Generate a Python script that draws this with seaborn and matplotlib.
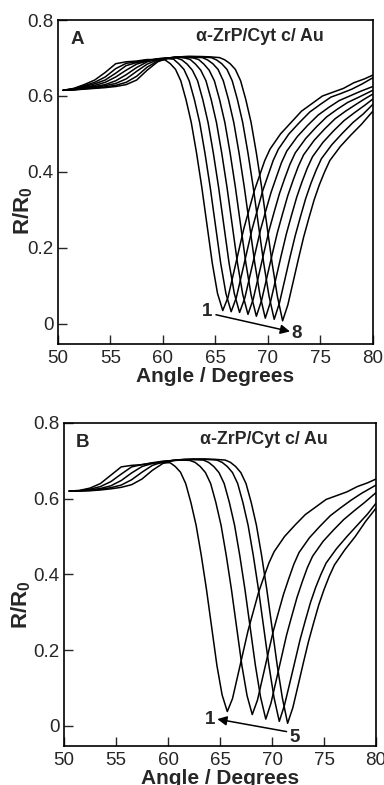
"""
SPR angle scans of alpha-ZrP/Cyt c multilayers on Au, two panels (A: 8 scans, B: 5 scans).
"""
import matplotlib
matplotlib.use("Agg")
import matplotlib.pyplot as plt
import seaborn as sns
import pandas as pd

# ---- panel A: 8 scans ----
A_ANGLE = [
    [50.5, 51.5, 52.5, 53.5, 54.5, 55.5, 56.5, 57.5, 58.5, 59.5,
     60.2, 60.7, 61.2, 61.7, 62.2, 62.7, 63.2, 63.7, 64.2, 64.7, 65.2, 65.7,
     66.2, 66.7, 67.2, 67.7, 68.2, 68.7, 69.2, 69.7, 70.2, 71.2, 72.2, 73.2, 74.2, 75.2, 76.2, 77.2, 78.2, 79.2, 80.0],
    [50.5, 51.5, 52.5, 53.5, 54.5, 55.5, 56.5, 57.5, 58.5, 59.5, 60.5,
     61.0, 61.5, 62.0, 62.5, 63.0, 63.5, 64.0, 64.5, 65.0, 65.5, 66.0, 66.5,
     67.0, 67.5, 68.0, 68.5, 69.0, 69.5, 70.0, 70.5, 71.0, 72.0, 73.0, 74.0, 75.0, 76.0, 77.0, 78.0, 79.0, 80.0],
    [50.5, 51.5, 52.5, 53.5, 54.5, 55.5, 56.5, 57.5, 58.5, 59.5, 60.5, 61.3,
     61.8, 62.3, 62.8, 63.3, 63.8, 64.3, 64.8, 65.3, 65.8, 66.3, 66.8, 67.3,
     67.8, 68.3, 68.8, 69.3, 69.8, 70.3, 70.8, 71.3, 71.8, 72.8, 73.8, 74.8, 75.8, 76.8, 77.8, 78.8, 80.0],
    [50.5, 51.5, 52.5, 53.5, 54.5, 55.5, 56.5, 57.5, 58.5, 59.5, 60.5, 61.5, 62.1,
     62.6, 63.1, 63.6, 64.1, 64.6, 65.1, 65.6, 66.1, 66.6, 67.1, 67.6, 68.1,
     68.6, 69.1, 69.6, 70.1, 70.6, 71.1, 71.6, 72.1, 72.6, 73.6, 74.6, 75.6, 76.6, 77.6, 78.6, 80.0],
    [50.5, 51.5, 52.5, 53.5, 54.5, 55.5, 56.5, 57.5, 58.5, 59.5, 60.5, 61.5, 62.5, 62.9,
     63.4, 63.9, 64.4, 64.9, 65.4, 65.9, 66.4, 66.9, 67.4, 67.9, 68.4, 68.9,
     69.4, 69.9, 70.4, 70.9, 71.4, 71.9, 72.4, 72.9, 73.4, 74.4, 75.4, 76.4, 77.4, 78.4, 79.2, 80.0],
    [50.5, 51.5, 52.5, 53.5, 54.5, 55.5, 56.5, 57.5, 58.5, 59.5, 60.5, 61.5, 62.5, 63.75,
     64.25, 64.75, 65.25, 65.75, 66.25, 66.75, 67.25, 67.75, 68.25, 68.75, 69.25, 69.75,
     70.25, 70.75, 71.25, 71.75, 72.25, 72.75, 73.25, 73.75, 74.25, 75.25, 76.25, 77.25, 78.25, 79.25, 80.0],
    [50.5, 51.5, 52.5, 53.5, 54.5, 55.5, 56.5, 57.5, 58.5, 59.5, 60.5, 61.5, 62.5, 63.5, 64.6,
     65.1, 65.6, 66.1, 66.6, 67.1, 67.6, 68.1, 68.6, 69.1, 69.6, 70.1, 70.6,
     71.1, 71.6, 72.1, 72.6, 73.1, 73.6, 74.1, 74.6, 75.1, 76.1, 77.1, 78.1, 79.1, 80.0],
    [50.5, 51.5, 52.5, 53.5, 54.5, 55.5, 56.5, 57.5, 58.5, 59.5, 60.5, 61.5, 62.5, 63.5, 64.5, 65.4,
     65.9, 66.4, 66.9, 67.4, 67.9, 68.4, 68.9, 69.4, 69.9, 70.4, 70.9, 71.4,
     71.9, 72.4, 72.9, 73.4, 73.9, 74.4, 74.9, 75.4, 75.9, 76.9, 77.9, 78.9, 80.0],
]
A_R = [
    [.615, .620, .630, .642, .662, .685, .690, .692, .696, .695,
     .695, .685, .670, .640, .590, .530, .450, .360, .260, .160, .080, .035,
     .070, .130, .190, .250, .300, .350, .390, .430, .460, .500, .530, .560, .580, .600, .610, .620, .635, .645, .655],
    [.615, .619, .627, .636, .650, .672, .686, .690, .695, .697, .698,
     .697, .685, .670, .640, .590, .530, .450, .360, .260, .160, .080, .032,
     .070, .130, .190, .250, .300, .350, .390, .430, .460, .500, .530, .558, .578, .597, .607, .618, .632, .648],
    [.615, .618, .625, .632, .642, .660, .680, .688, .693, .698, .700, .700,
     .695, .684, .668, .640, .590, .530, .450, .360, .260, .160, .080, .030,
     .068, .128, .188, .248, .298, .346, .386, .425, .455, .493, .523, .550, .570, .588, .600, .612, .625],
    [.615, .618, .623, .628, .636, .650, .668, .684, .692, .698, .700, .702, .700,
     .696, .684, .668, .640, .590, .530, .450, .360, .260, .160, .078, .025,
     .065, .125, .185, .245, .295, .343, .383, .420, .450, .488, .518, .545, .565, .583, .596, .615],
    [.615, .617, .621, .625, .630, .640, .656, .675, .690, .697, .700, .702, .701, .700,
     .696, .684, .668, .640, .590, .530, .450, .360, .260, .160, .076, .020,
     .062, .122, .182, .240, .290, .338, .378, .415, .445, .483, .513, .540, .560, .578, .592, .605],
    [.615, .617, .620, .623, .627, .633, .645, .665, .684, .695, .700, .703, .703, .701,
     .695, .685, .670, .640, .590, .530, .450, .360, .260, .160, .075, .015,
     .058, .118, .178, .236, .286, .334, .374, .410, .440, .478, .508, .535, .556, .576, .592],
    [.615, .616, .619, .621, .624, .628, .636, .652, .676, .692, .700, .703, .704, .703, .701,
     .695, .685, .670, .640, .590, .530, .450, .360, .260, .160, .074, .012,
     .055, .115, .175, .232, .282, .330, .370, .405, .435, .472, .502, .530, .553, .578],
    [.615, .616, .618, .620, .622, .625, .630, .642, .668, .690, .700, .703, .704, .704, .703, .701,
     .695, .685, .670, .640, .590, .530, .450, .360, .260, .160, .073, .008,
     .050, .110, .170, .228, .278, .326, .366, .400, .430, .467, .497, .525, .560],
]

# ---- panel B: 5 scans ----
B_ANGLE = [
    [50.5, 51.5, 52.5, 53.5, 54.5, 55.5, 56.5, 57.5, 58.5, 59.5,
     60.2, 60.7, 61.2, 61.7, 62.2, 62.7, 63.2, 63.7, 64.2, 64.7, 65.2, 65.7,
     66.2, 66.7, 67.2, 67.7, 68.2, 68.7, 69.2, 69.7, 70.2, 71.2, 72.2, 73.2, 74.2, 75.2, 76.2, 77.2, 78.2, 79.2, 80.0],
    [50.5, 51.5, 52.5, 53.5, 54.5, 55.5, 56.5, 57.5, 58.5, 59.5, 60.5, 61.5, 62.1,
     62.6, 63.1, 63.6, 64.1, 64.6, 65.1, 65.6, 66.1, 66.6, 67.1, 67.6, 68.1,
     68.6, 69.1, 69.6, 70.1, 70.6, 71.1, 71.6, 72.1, 72.6, 73.6, 74.6, 75.6, 76.6, 77.6, 78.6, 80.0],
    [50.5, 51.5, 52.5, 53.5, 54.5, 55.5, 56.5, 57.5, 58.5, 59.5, 60.5, 61.5, 62.5, 63.4,
     63.9, 64.4, 64.9, 65.4, 65.9, 66.4, 66.9, 67.4, 67.9, 68.4, 68.9, 69.4,
     69.9, 70.4, 70.9, 71.4, 71.9, 72.4, 72.9, 73.4, 73.9, 74.9, 75.9, 76.9, 77.9, 78.9, 80.0],
    [50.5, 51.5, 52.5, 53.5, 54.5, 55.5, 56.5, 57.5, 58.5, 59.5, 60.5, 61.5, 62.5, 63.5, 64.7,
     65.2, 65.7, 66.2, 66.7, 67.2, 67.7, 68.2, 68.7, 69.2, 69.7, 70.2, 70.7,
     71.2, 71.7, 72.2, 72.7, 73.2, 73.7, 74.2, 74.7, 75.2, 76.2, 77.2, 78.2, 79.2, 80.0],
    [50.5, 51.5, 52.5, 53.5, 54.5, 55.5, 56.5, 57.5, 58.5, 59.5, 60.5, 61.5, 62.5, 63.5, 64.5, 65.5,
     66.0, 66.5, 67.0, 67.5, 68.0, 68.5, 69.0, 69.5, 70.0, 70.5, 71.0, 71.5,
     72.0, 72.5, 73.0, 73.5, 74.0, 74.5, 75.0, 75.5, 76.0, 77.0, 78.0, 79.0, 80.0],
]
B_R = [
    [.620, .622, .628, .640, .662, .684, .688, .690, .694, .695,
     .695, .685, .670, .640, .590, .530, .450, .360, .260, .160, .082, .038,
     .072, .132, .192, .252, .302, .352, .392, .430, .460, .500, .530, .558, .578, .598, .608, .618, .632, .642, .652],
    [.620, .621, .625, .632, .645, .665, .684, .690, .695, .699, .701, .702, .701,
     .696, .685, .669, .640, .590, .530, .450, .360, .260, .160, .080, .030,
     .068, .128, .188, .248, .298, .347, .388, .427, .458, .497, .527, .555, .576, .596, .614, .636],
    [.620, .621, .623, .627, .634, .648, .668, .685, .693, .698, .701, .703, .703, .702,
     .696, .685, .669, .640, .590, .530, .450, .360, .260, .160, .076, .018,
     .060, .120, .180, .240, .290, .339, .380, .418, .448, .487, .517, .545, .568, .590, .616],
    [.620, .621, .622, .625, .629, .636, .650, .670, .688, .697, .701, .703, .704, .704, .702,
     .696, .685, .669, .640, .590, .530, .450, .360, .260, .160, .074, .012,
     .055, .112, .170, .228, .278, .326, .366, .400, .430, .468, .500, .530, .560, .588],
    [.620, .620, .621, .623, .626, .630, .637, .652, .675, .693, .701, .704, .705, .705, .704, .702,
     .696, .685, .669, .640, .590, .530, .450, .360, .260, .160, .073, .007,
     .048, .106, .165, .222, .272, .320, .360, .395, .425, .465, .500, .540, .575],
]

X_TICKS = [50, 55, 60, 65, 70, 75, 80]
Y_TICKS = [0, 0.2, 0.4, 0.6, 0.8]
Y_TICK_LABELS = ["0", "0.2", "0.4", "0.6", "0.8"]
TITLE = "\u03b1-ZrP/Cyt c/ Au"


def to_frame(angles, values):
    rows = []
    for i, (xs, ys) in enumerate(zip(angles, values)):
        for x, y in zip(xs, ys):
            rows.append([x, y, i + 1])
    return pd.DataFrame(rows, columns=["Angle", "R", "Scan"])


def draw_panel(ax, angles, values, letter, first, last, arrow_tail, arrow_head, first_pos, last_pos,
               xlabel_pos, ylabel_pos):
    data = to_frame(angles, values)
    sns.lineplot(data=data, x="Angle", y="R", hue="Scan", units="Scan", estimator=None, sort=False,
                 palette=["black"] * len(angles), linewidth=1.1, legend=False, ax=ax)
    ax.set_xlim(50, 80)
    ax.set_ylim(-0.053, 0.8)
    ax.set_xticks(X_TICKS)
    ax.set_xticklabels([str(t) for t in X_TICKS])
    ax.set_yticks(Y_TICKS)
    ax.set_yticklabels(Y_TICK_LABELS)
    ax.tick_params(direction="in", length=6.5, width=1.0, labelsize=13.5, top=False, right=False)
    ax.tick_params(axis="x", pad=4)
    ax.tick_params(axis="y", pad=3)
    for sp in ax.spines.values():
        sp.set_visible(True)
        sp.set_linewidth(1.2)
        sp.set_color("black")
    ax.set_xlabel("Angle / Degrees", fontsize=15, fontweight="bold")
    ax.set_ylabel("R/R$_0$", fontsize=16, fontweight="bold")
    ax.xaxis.set_label_coords(*xlabel_pos)
    ax.yaxis.set_label_coords(*ylabel_pos)

    ax.text(51.8, 0.748, letter, fontsize=13.5, fontweight="bold", ha="center", va="center")
    ax.text(69.2, 0.757, TITLE, fontsize=12.8, fontweight="bold", ha="center", va="center")
    ax.annotate("", xy=arrow_head, xytext=arrow_tail,
                arrowprops=dict(arrowstyle="-|>", color="black", lw=1.1, mutation_scale=14,
                                shrinkA=0, shrinkB=0))
    ax.text(first_pos[0], first_pos[1], first, fontsize=13.5, fontweight="bold", ha="center", va="center")
    ax.text(last_pos[0], last_pos[1], last, fontsize=13.5, fontweight="bold", ha="center", va="center")


sns.set_style("ticks")
plt.rcParams["font.family"] = ["Liberation Sans", "DejaVu Sans"]
plt.rcParams["mathtext.fontset"] = "custom"
plt.rcParams["mathtext.rm"] = "Liberation Sans:bold"
plt.rcParams["mathtext.it"] = "Liberation Sans:bold"
plt.rcParams["mathtext.bf"] = "Liberation Sans:bold"

fig = plt.figure(figsize=(3.84, 7.85), dpi=100)
ax_a = fig.add_axes([0.151, 0.5618, 0.820, 0.4127])
ax_b = fig.add_axes([0.1667, 0.0497, 0.8125, 0.4115])

draw_panel(ax_a, A_ANGLE, A_R, "A", "1", "8",
           arrow_tail=(65.05, 0.024), arrow_head=(72.1, -0.02),
           first_pos=(64.2, 0.032), last_pos=(72.7, -0.025),
           xlabel_pos=(0.5, -0.07), ylabel_pos=(-0.073, 0.41))
draw_panel(ax_b, B_ANGLE, B_R, "B", "1", "5",
           arrow_tail=(71.4, -0.015), arrow_head=(64.74, 0.018),
           first_pos=(64.0, 0.016), last_pos=(72.2, -0.03),
           xlabel_pos=(0.5, -0.07), ylabel_pos=(-0.1, 0.437))

fig.savefig("out.png", dpi=100)
